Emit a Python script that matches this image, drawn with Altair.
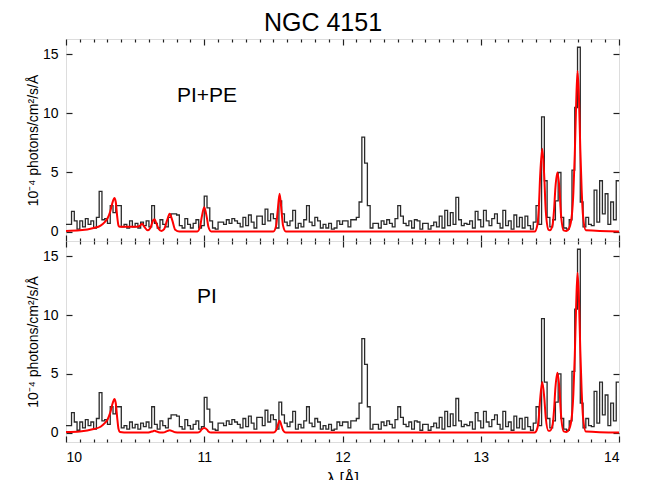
import altair as alt
import pandas as pd

# ---------------- data ----------------
bin_start = 10.0
bin_width = 0.02
flux = [
    0.6, 0.6, 1.7, 0.9, 0.2,   0.9, 0.4, 1.1, 0.6, 0.9,
    0.3, 1.2, 3.4, 1.0, 1.1,   0.7, 2.2, 1.6, 2.2, 2.2,
    0.4, 0.6, 0.3, 0.9, 0.4,   0.7, 0.3, 0.8, 0.5, 0.9,
    0.4, 2.2, 0.7, 0.3, 1.0,   0.6, 0.4, 1.2, 1.5, 1.5,
    1.4, 0.5, 0.3, 1.1, 0.6,   0.3, 0.7, 1.0, 0.3, 0.5,
    3.0, 2.0, 0.9, 0.3, 0.2,   0.8, 0.8, 0.6, 1.0, 0.7,
    1.1, 0.9, 0.7, 0.4, 1.2,   0.5, 1.4, 0.8, 0.3, 1.3,
    1.3, 0.6, 1.9, 0.9, 1.5,   1.1, 0.3, 2.6, 1.5, 0.8,
    0.5, 0.9, 1.8, 0.3, 0.7,   0.4, 1.0, 2.2, 0.8, 0.5,
    1.2, 0.9, 0.3, 0.6, 0.3,   0.7, 0.2, 0.3, 0.9, 0.6,
    0.9, 0.9, 0.4, 1.0, 1.0,   1.2, 2.5, 8.0, 5.8, 2.2,
    0.3, 0.7, 0.7, 0.3, 0.9,   0.6, 1.0, 0.7, 0.4, 1.1,
    2.2, 1.3, 0.7, 0.5, 0.9,   0.3, 1.0, 0.9, 0.2, 0.7,
    0.7, 0.2, 0.5, 0.8, 0.4,   1.3, 0.3, 1.8, 0.5, 1.6,
    0.6, 2.9, 1.0, 0.5, 0.7,   0.6, 0.9, 0.3, 1.7, 1.0,
    0.4, 1.8, 0.9, 0.5, 1.1,   1.5, 0.7, 0.3, 1.8, 0.5,
    0.9, 0.2, 1.4, 0.4, 1.2,   0.3, 1.3, 0.5, 0.2, 0.8,
    2.2, 0.6, 9.7, 4.3, 1.2,   0.4, 1.0, 2.6, 5.0, 1.2,
    0.3, 0.2, 1.0, 5.2, 10.5,  15.6, 2.5, 0.4, 1.2, 0.6,
    0.5, 3.5, 0.8, 4.3, 1.5,   3.2, 0.6, 2.5, 1.0, 4.3,
]

red_x = [10.00, 10.10, 10.20, 10.25, 10.28, 10.30, 10.32, 10.34, 10.35, 10.36,
         10.37, 10.38, 10.39, 10.45, 10.50, 10.53, 10.55, 10.57, 10.59, 10.61,
         10.63, 10.64, 10.65, 10.67, 10.69, 10.71, 10.73, 10.75, 10.77, 10.79,
         10.82, 10.95, 10.97, 10.98, 11.00, 11.02, 11.03, 11.05, 11.50, 11.52,
         11.53, 11.545, 11.56, 11.57, 11.59, 13.39, 13.41, 13.42, 13.43, 13.445,
         13.46, 13.47, 13.49, 13.50, 13.52, 13.53, 13.54, 13.555, 13.57, 13.58,
         13.60, 13.62, 13.64, 13.66, 13.67, 13.68, 13.69, 13.70, 13.71, 13.72,
         13.73, 13.74, 13.76, 14.00]

red_pipe = [0.05, 0.10, 0.30, 0.50, 0.80, 1.10, 1.70, 2.60, 2.85, 2.50,
            1.30, 0.50, 0.40, 0.40, 0.40, 0.45, 0.65, 0.35, 0.10, 0.30,
            0.95, 1.05, 0.80, 0.25, 0.05, 0.20, 0.90, 1.50, 0.90, 0.15,
            0.00, 0.00, 0.40, 1.10, 2.05, 1.10, 0.40, 0.00, 0.00, 0.50,
            1.60, 3.20, 1.60, 0.50, 0.00, 0.00, 0.60, 2.00, 4.80, 7.00,
            4.50, 1.80, 0.15, 0.10, 0.60, 1.80, 3.70, 5.00, 3.50, 1.50,
            0.10, 0.05, 0.30, 1.50, 3.30, 6.50, 10.8, 13.6, 11.5, 7.00,
            3.50, 1.30, 0.10, 0.00]

red_pi = [0.05, 0.10, 0.30, 0.50, 0.80, 1.10, 1.70, 2.60, 2.85, 2.50,
          1.30, 0.30, 0.05, 0.00, 0.00, 0.00, 0.00, 0.00, 0.00, 0.05,
          0.12, 0.15, 0.12, 0.03, 0.00, 0.02, 0.12, 0.20, 0.12, 0.02,
          0.00, 0.00, 0.10, 0.25, 0.40, 0.25, 0.10, 0.00, 0.00, 0.20,
          0.55, 1.00, 0.55, 0.20, 0.00, 0.00, 0.40, 1.30, 2.90, 4.30,
          2.90, 1.30, 0.15, 0.15, 0.70, 1.90, 3.80, 5.10, 3.60, 1.60,
          0.10, 0.05, 0.30, 1.50, 3.30, 6.50, 10.8, 13.6, 11.5, 7.00,
          3.50, 1.30, 0.10, 0.00]

x_major = [10, 11, 12, 13, 14]
x_minor = [round(10 + 0.1 * i, 1) for i in range(41) if i % 10 != 0]
y_major = [0, 5, 10, 15]
x_domain = [10, 14]
y_domain = [-0.8, 16.3]

hist_x = [round(bin_start + i * bin_width, 3) for i in range(len(flux))] + [14.0]
hist_df = pd.DataFrame({"wl": hist_x, "flux": flux + [flux[-1]]})

FONT = "Liberation Sans"
FRAME = "#222222"
W = 553


def x_axis(orient, values, size, labels=False, title=None):
    kw = dict(orient=orient, values=values, tickSize=size, offset=-size,
              domain=False, grid=False, labels=labels, tickColor=FRAME,
              tickWidth=1.2)
    if labels:
        kw.update(labelFont=FONT, labelFontSize=14, labelPadding=8,
                  labelColor="#000000", format="d")
    if title:
        kw.update(title=title, titleFont=FONT, titleFontSize=16,
                  titleFontWeight="normal", titlePadding=6, titleColor="#000000")
    else:
        kw.update(title=None)
    return alt.Axis(**kw)


def panel(red_vals, label, bottom, height):
    red_df = pd.DataFrame({"wl": red_x, "model": red_vals})
    xs = alt.Scale(domain=x_domain, nice=False, zero=False)
    ys = alt.Scale(domain=y_domain, nice=False, zero=False)

    hist = alt.Chart(hist_df).mark_line(
        interpolate="step-after", color="#2a2a2a", strokeWidth=1.3, clip=True
    ).encode(
        x=alt.X("wl:Q", scale=xs,
                axis=x_axis("bottom", x_major, 6, labels=bottom,
                            title="λ [Å]" if bottom else None)),
        y=alt.Y("flux:Q", scale=ys,
                axis=alt.Axis(orient="left", values=y_major, tickSize=6, offset=-6,
                              domain=False, grid=False, tickColor=FRAME, tickWidth=1.2,
                              labelFont=FONT, labelFontSize=14, labelPadding=8,
                              labelColor="#000000",
                              title="10⁻⁴ photons/cm²/s/Å", titleFont=FONT,
                              titleFontSize=14, titleFontWeight="normal",
                              titlePadding=2, titleColor="#000000")),
    )

    red = alt.Chart(red_df).mark_line(
        color="#ff0000", strokeWidth=2, interpolate="monotone", clip=True
    ).encode(
        x=alt.X("wl:Q", scale=xs, axis=x_axis("top", x_major, 6)),
        y=alt.Y("model:Q", scale=ys,
                axis=alt.Axis(orient="right", values=y_major, tickSize=6, offset=-6,
                              domain=False, grid=False, labels=False, title=None,
                              tickColor=FRAME, tickWidth=1.2)),
    )

    ghost_b = alt.Chart(hist_df).mark_line(strokeOpacity=0).encode(
        x=alt.X("wl:Q", scale=xs, axis=x_axis("bottom", x_minor, 3)),
        y=alt.Y("flux:Q", scale=ys, axis=None),
    )
    ghost_t = alt.Chart(hist_df).mark_line(strokeOpacity=0).encode(
        x=alt.X("wl:Q", scale=xs, axis=x_axis("top", x_minor, 3)),
        y=alt.Y("flux:Q", scale=ys, axis=None),
    )

    lab_df = pd.DataFrame({"wl": [11.02], "v": [11.5], "t": [label]})
    txt = alt.Chart(lab_df).mark_text(
        font=FONT, fontSize=21, color="#000000", align="center", baseline="middle"
    ).encode(
        x=alt.X("wl:Q", scale=xs, axis=None),
        y=alt.Y("v:Q", scale=ys, axis=None),
        text="t:N",
    )

    return alt.layer(hist, red, ghost_b, ghost_t, txt).resolve_scale(
        x="independent", y="independent"
    ).properties(width=W, height=height)


top = panel(red_pipe, "PI+PE", False, 202)
bot = panel(red_pi, "PI", True, 201)

chart = alt.vconcat(top, bot, spacing=0, bounds="flush").properties(
    title=alt.TitleParams("NGC 4151", font=FONT, fontSize=25, fontWeight="normal",
                          color="#000000", anchor="middle", offset=2),
    padding={"left": 17, "top": 2, "right": 5, "bottom": 5},
).configure_view(stroke=FRAME, strokeWidth=1.5).configure(background="white")

chart.save("out.html", embed_options={"renderer": "svg", "actions": False})
